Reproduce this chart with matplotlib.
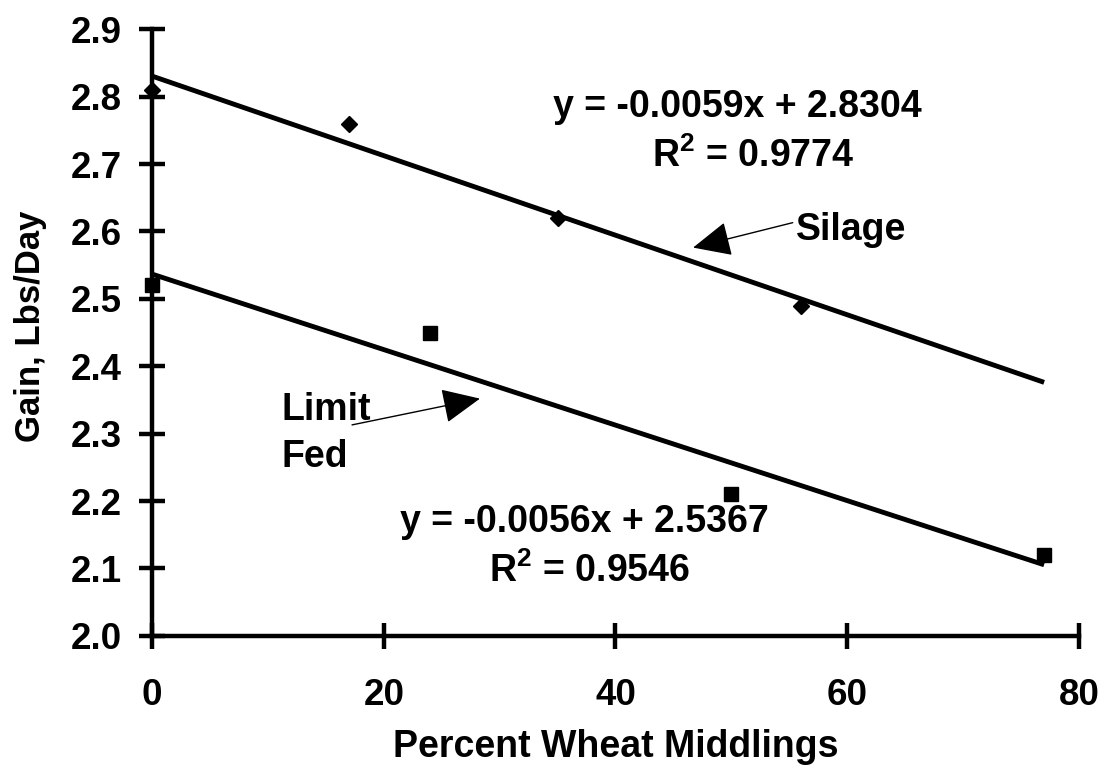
import matplotlib
matplotlib.use("Agg")
import matplotlib.pyplot as plt
import numpy as np

plt.rcParams['font.family'] = ['Liberation Sans', 'DejaVu Sans']
plt.rcParams['font.weight'] = 'bold'
plt.rcParams['mathtext.fontset'] = 'custom'
plt.rcParams['mathtext.rm'] = 'Liberation Sans:bold'
plt.rcParams['mathtext.bf'] = 'Liberation Sans:bold'

silage_x = [0, 17, 35, 56]
silage_y = [2.81, 2.76, 2.62, 2.49]
limit_x = [0, 24, 50, 77]
limit_y = [2.52, 2.45, 2.21, 2.12]
silage_fit = (-0.0059, 2.8304)
limit_fit = (-0.0056, 2.5367)
fit_range = [0, 77]
x_ticks = [0, 20, 40, 60, 80]
y_ticks = [2.0, 2.1, 2.2, 2.3, 2.4, 2.5, 2.6, 2.7, 2.8, 2.9]

fig = plt.figure(figsize=(11.02, 7.68), dpi=100)
ax = fig.add_axes([0.138, 0.172, 0.841, 0.790])

fx = np.array(fit_range, dtype=float)
ax.plot(fx, silage_fit[0] * fx + silage_fit[1], color='black', lw=3.5, solid_capstyle='butt', zorder=2)
ax.plot(fx, limit_fit[0] * fx + limit_fit[1], color='black', lw=3.5, solid_capstyle='butt', zorder=2)
ax.plot(silage_x, silage_y, linestyle='none', marker='D', ms=8, color='black', zorder=3, clip_on=False)
ax.plot(limit_x, limit_y, linestyle='none', marker='s', ms=9.5, color='black', zorder=3, clip_on=False)

ax.set_xlim(0, 80)
ax.set_ylim(2.0, 2.9)
ax.set_xticks(x_ticks)
ax.set_yticks(y_ticks)
ax.set_yticklabels([f"{v:.1f}" for v in y_ticks])
for s in ['top', 'right']:
    ax.spines[s].set_visible(False)
for s in ['left', 'bottom']:
    ax.spines[s].set_linewidth(3.2)
ax.tick_params(axis='both', direction='inout', length=19, width=3.2, labelsize=26.5)
ax.tick_params(axis='x', pad=21)
ax.tick_params(axis='y', pad=12)
for lab in ax.get_xticklabels() + ax.get_yticklabels():
    lab.set_fontweight('bold')

ax.set_xlabel('Percent Wheat Middlings', fontsize=27, fontweight='bold', labelpad=11)
ax.set_ylabel('Gain, Lbs/Day', fontsize=25, fontweight='bold')
ax.yaxis.set_label_coords(-0.113, 0.51)

fs = 27
ax.text(50.5, 2.769, 'y = -0.0059x + 2.8304', fontsize=fs, fontweight='bold', ha='center', va='baseline')
ax.text(51.9, 2.696, 'R$^{\\mathbf{2}}$ = 0.9774', fontsize=fs, fontweight='bold', ha='center', va='baseline')
ax.text(55.6, 2.5875, 'Silage', fontsize=fs, fontweight='bold', ha='left', va='baseline')
ax.annotate('', xy=(46.7, 2.576), xytext=(55.3, 2.613),
            arrowprops=dict(arrowstyle='-|>,head_length=2.4,head_width=1.1', color='black', lw=1.0,
                            shrinkA=0, shrinkB=0))
ax.text(11.2, 2.3205, 'Limit', fontsize=fs, fontweight='bold', ha='left', va='baseline')
ax.text(11.2, 2.2507, 'Fed', fontsize=fs, fontweight='bold', ha='left', va='baseline')
ax.annotate('', xy=(28.3, 2.352), xytext=(17.26, 2.313),
            arrowprops=dict(arrowstyle='-|>,head_length=2.4,head_width=1.1', color='black', lw=1.0,
                            shrinkA=0, shrinkB=0))
ax.text(37.3, 2.154, 'y = -0.0056x + 2.5367', fontsize=fs, fontweight='bold', ha='center', va='baseline')
ax.text(37.8, 2.080, 'R$^{\\mathbf{2}}$ = 0.9546', fontsize=fs, fontweight='bold', ha='center', va='baseline')

fig.savefig('out.png', dpi=100)
